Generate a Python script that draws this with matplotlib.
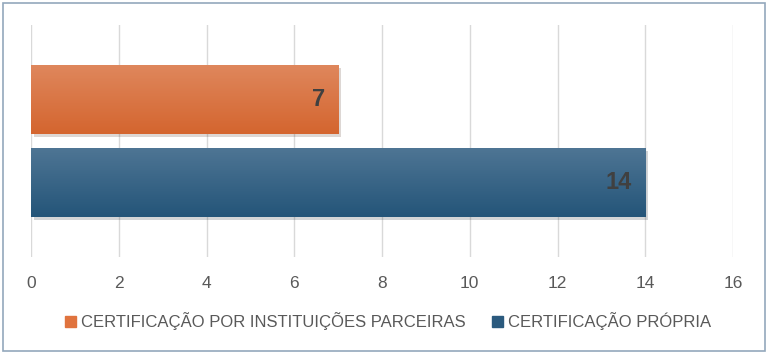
import numpy as np
import matplotlib.pyplot as plt
from matplotlib.colors import LinearSegmentedColormap
from matplotlib.patches import Rectangle
import matplotlib.patheffects as pe

categorias = ["CERTIFICAÇÃO PRÓPRIA", "CERTIFICAÇÃO POR INSTITUIÇÕES PARCEIRAS"]
valores = [14, 7]
cores_topo = ["#4E7594", "#DF875C"]
cores_base = ["#245579", "#D4652F"]
cores_legenda = ["#2B5A7E", "#E0733E"]

plt.rcParams['font.family'] = ['Liberation Sans', 'DejaVu Sans']

fig = plt.figure(figsize=(7.68, 3.56), dpi=100)
ax = fig.add_axes([31/768, 1 - 257/356, 702/768, 232/356])

pos = np.arange(len(valores))
bars = ax.barh(pos, valores, height=0.83, color=cores_legenda, zorder=2,
               label=categorias)

for b, c0, c1, v in zip(bars, cores_topo, cores_base, valores):
    b.set_path_effects([pe.SimplePatchShadow(offset=(2, -2), alpha=0.18), pe.Normal()])
    cmap = LinearSegmentedColormap.from_list("g", [c1, c0])
    x0, y0 = b.get_x(), b.get_y()
    w, h = b.get_width(), b.get_height()
    grad = np.linspace(0, 1, 100).reshape(-1, 1)
    im = ax.imshow(grad, cmap=cmap, aspect="auto", origin="lower",
                   extent=(x0, x0 + w, y0, y0 + h), zorder=3)
    im.set_clip_path(b)
    ax.text(x0 + w - 0.3, y0 + h / 2, str(v), ha="right", va="center",
            fontsize=17, fontweight="bold", color="#404040", zorder=4)

ax.set_xlim(0, 16)
ax.set_ylim(-0.898, 1.898)
ax.set_xticks(range(0, 17, 2))
ax.set_yticks([])
ax.grid(axis="x", color="#D9D9D9", linewidth=1, zorder=0)
ax.set_axisbelow(True)
for s in ax.spines.values():
    s.set_visible(False)
ax.tick_params(axis="x", length=0, labelsize=12.5, labelcolor="#595959", pad=14)

handles = [Rectangle((0, 0), 1, 1, color=c) for c in cores_legenda[::-1]]
fig.legend(handles, categorias[::-1], loc="center", bbox_to_anchor=(388/768, 1 - 321/356),
           ncol=2, frameon=False, fontsize=12, labelcolor="#595959",
           handlelength=0.65, handleheight=0.65, handletextpad=0.3, columnspacing=1.6)

fig.patches.append(Rectangle((3/768, 5/356), 762/768, 348/356, transform=fig.transFigure,
                             fill=False, edgecolor="#93A8BC", linewidth=1.2))

fig.savefig("out.png", dpi=100)
